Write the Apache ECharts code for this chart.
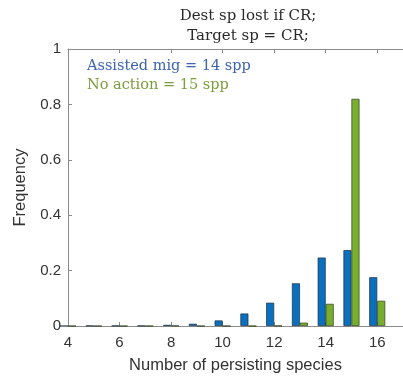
<!DOCTYPE html>
<html>
<head>
<meta charset="utf-8">
<script src="https://cdn.jsdelivr.net/npm/echarts@6/dist/echarts.min.js"></script>
<style>
  html, body { margin: 0; padding: 0; background: #fff; }
  #chart { width: 403px; height: 380px; }
</style>
</head>
<body>
<div id="chart"></div>
<script>
// Number of persisting species (x positions, axis runs 4..17)
const speciesCounts = ['4','5','6','7','8','9','10','11','12','13','14','15','16','17'];
// Frequency under assisted migration
const assistedMig = [0, 0.001, 0.001, 0.001, 0.004, 0.008, 0.02, 0.045, 0.084, 0.154, 0.247, 0.274, 0.176, null];
// Frequency with no action
const noAction = [0, 0, 0, 0, 0.001, 0, 0, 0, 0.001, 0.012, 0.08, 0.82, 0.091, null];
const titleLines = ['Dest sp lost if CR;', 'Target sp = CR;'];
const legendLines = ['Assisted mig = 14 spp', 'No action = 15 spp'];

const showTick = (idx, val) => Number(val) % 2 === 0 && Number(val) <= 16;
const axisGray = '#8c8c8c';
const textGray = '#333333';
const serif = 'DejaVu Serif';

const chart = echarts.init(document.getElementById('chart'));
chart.setOption({
  animation: false,
  title: {
    text: titleLines.join('\n'),
    left: 243, top: 1, textAlign: 'center',
    textStyle: { fontFamily: serif, fontSize: 15, fontWeight: 'normal', color: '#2a2a2a', lineHeight: 20 }
  },
  graphic: [
    { type: 'text', left: 87, top: 59, style: { text: legendLines[0], fontFamily: serif, fontSize: 14.5, fill: '#3d64ae' } },
    { type: 'text', left: 87, top: 78, style: { text: legendLines[1], fontFamily: serif, fontSize: 14.5, fill: '#7c9d3c' } }
  ],
  grid: { left: 68, top: 49, width: 341, height: 277, containLabel: false },
  xAxis: [
    {
      type: 'category', data: speciesCounts, boundaryGap: false,
      name: 'Number of persisting species', nameLocation: 'middle', nameGap: 31,
      nameTextStyle: { fontFamily: 'Liberation Sans', fontSize: 16.5, color: textGray },
      axisLine: { lineStyle: { color: axisGray, width: 1 } },
      axisTick: { inside: true, length: 4, interval: showTick, lineStyle: { color: axisGray } },
      axisLabel: { interval: showTick, fontFamily: 'Liberation Sans', fontSize: 15, color: textGray, margin: 9 }
    },
    {
      type: 'category', data: speciesCounts, boundaryGap: false, position: 'top',
      axisLine: { lineStyle: { color: axisGray, width: 1 } },
      axisTick: { inside: true, length: 4, interval: showTick, lineStyle: { color: axisGray } },
      axisLabel: { show: false }
    }
  ],
  yAxis: {
    type: 'value', min: 0, max: 1, interval: 0.2,
    name: 'Frequency', nameLocation: 'middle', nameGap: 32, nameRotate: 90,
    nameTextStyle: { fontFamily: 'Liberation Sans', fontSize: 16.5, color: textGray },
    axisLine: { show: true, lineStyle: { color: axisGray, width: 1 } },
    axisTick: { show: true, inside: true, length: 4, lineStyle: { color: axisGray } },
    axisLabel: { fontFamily: 'Liberation Sans', fontSize: 15, color: textGray, margin: 7,
      formatter: v => (v === 0 || v === 1) ? String(v) : v.toFixed(1) },
    splitLine: { show: false }
  },
  series: [
    {
      type: 'bar', name: 'Assisted mig', data: assistedMig, xAxisIndex: 0,
      barWidth: 8, barGap: '0%',
      itemStyle: { color: '#0a6fbd', borderColor: '#1c2f45', borderWidth: 0.7 }
    },
    {
      type: 'bar', name: 'No action', data: noAction, xAxisIndex: 0,
      barWidth: 8, barGap: '0%',
      itemStyle: { color: '#78ad30', borderColor: '#2f3f1a', borderWidth: 0.7 }
    }
  ]
});
</script>
</body>
</html>
